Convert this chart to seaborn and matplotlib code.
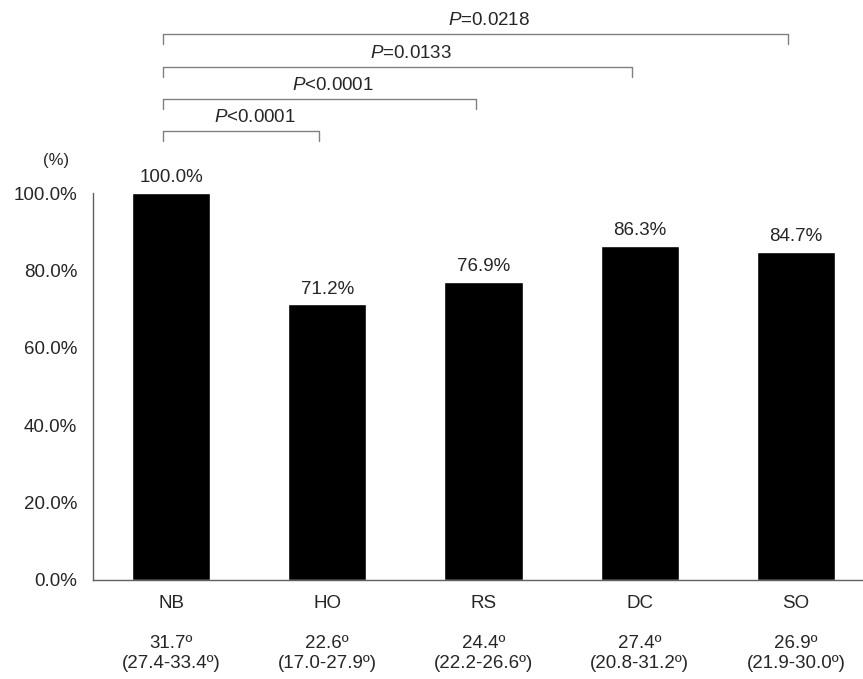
import matplotlib
matplotlib.use("Agg")
import matplotlib.pyplot as plt
import seaborn as sns

groups = ["NB", "HO", "RS", "DC", "SO"]
rates = [100.0, 71.2, 76.9, 86.3, 84.7]
angles = ["31.7º", "22.6º", "24.4º", "27.4º", "26.9º"]
ranges = ["(27.4-33.4º)", "(17.0-27.9º)", "(22.2-26.6º)", "(20.8-31.2º)", "(21.9-30.0º)"]
comparisons = [("NB", "HO"), ("NB", "RS"), ("NB", "DC"), ("NB", "SO")]
p_labels = ["$P$<0.0001", "$P$<0.0001", "$P$=0.0133", "$P$=0.0218"]
bracket_levels = [116.1, 124.4, 132.6, 141.0]

sns.set_style("white")
plt.rcParams["font.family"] = ["Liberation Sans", "DejaVu Sans"]
plt.rcParams["mathtext.fontset"] = "custom"
plt.rcParams["mathtext.it"] = "Liberation Sans:italic"
plt.rcParams["mathtext.rm"] = "Liberation Sans"

TXT = "#262626"
FS = 13.5

fig = plt.figure(figsize=(8.63, 6.79), dpi=100)
ax = fig.add_axes([93 / 863, 99 / 679, 770 / 863, 387 / 679])

sns.barplot(x=groups, y=rates, color="black", saturation=1, width=0.5, ax=ax)
for c in ax.containers:
    ax.bar_label(c, labels=[f"{v:.1f}%" for v in rates], padding=5,
                 fontsize=FS, color=TXT)

ax.set_xlim(-0.5, 4.43)
ax.set_ylim(0, 100)
ax.set_yticks(range(0, 101, 20))
ax.yaxis.set_major_formatter(matplotlib.ticker.StrMethodFormatter("{x:.1f}%"))
ax.tick_params(axis="y", length=0, pad=11.5, labelsize=FS, labelcolor=TXT)
ax.tick_params(axis="x", length=0, pad=10.5, labelsize=FS, labelcolor=TXT)
ax.set_xlabel("")
ax.set_ylabel("")
for side in ["top", "right"]:
    ax.spines[side].set_visible(False)
for side in ["left", "bottom"]:
    ax.spines[side].set_color("#606060")
    ax.spines[side].set_linewidth(1)

# second-line labels under each category
for i, (a, r) in enumerate(zip(angles, ranges)):
    ax.annotate(a, xy=(i, 0), xycoords=("data", "axes fraction"),
                xytext=(0, -46), textcoords="offset points",
                ha="center", va="center", fontsize=FS, color=TXT)
    ax.annotate(r, xy=(i, 0), xycoords=("data", "axes fraction"),
                xytext=(0, -60.3), textcoords="offset points",
                ha="center", va="center", fontsize=FS, color=TXT)

# significance brackets
tip = 2.6
for (g0, g1), lab, lvl in zip(comparisons, p_labels, bracket_levels):
    x0 = groups.index(g0) - 0.055
    x1 = groups.index(g1) - 0.05
    ax.plot([x0, x0, x1, x1], [lvl - tip, lvl, lvl, lvl - tip],
            color="#808080", lw=1, clip_on=False)
    ax.text((x0 + x1) / 2 + 0.09, lvl + 1.3, lab, ha="center", va="bottom",
            fontsize=FS, color=TXT, clip_on=False)

fig.text(56 / 863, 1 - 161 / 679, "(%)", ha="center", va="center",
         fontsize=12, color=TXT)

fig.savefig("out.png", dpi=100)
